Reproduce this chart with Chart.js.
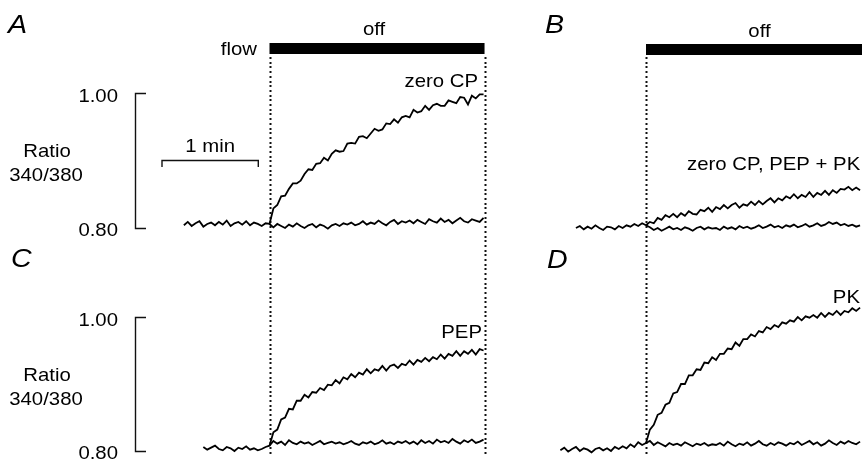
<!DOCTYPE html>
<html><head><meta charset="utf-8">
<script src="https://cdn.jsdelivr.net/npm/chart.js@4.4.1/dist/chart.umd.min.js"></script>
<style>html,body{margin:0;padding:0;background:#fff;overflow:hidden}canvas{display:block}</style>
</head><body>
<canvas id="c" width="862" height="462"></canvas>
<script>
// ---------- data (time in min, 0 = flow off; values = fura-2 ratio 340/380) ----------
const sampleInterval = 0.04;
const yTickValues = [1.00, 0.80];
const yTickLabels = ["1.00", "0.80"];
const panelLetters = ["A", "B", "C", "D"];
const traceLabels = ["zero CP", "zero CP, PEP + PK", "PEP", "PK"];

const startA = -0.88;
const controlA = [.804,.809,.803,.807,.810,.802,.806,.808,.804,.809,.805,.811,.803,.807,.809,.805,.810,.804,.808,.806,.803,.807,
 .806,
 .801,.806,.803,.800,.805,.802,.807,.803,.800,.804,.806,.801,.805,.803,.799,.804,.806,
 .803,.807,.805,.808,.804,.806,.810,.805,.808,.806,.811,.807,.804,.809,.812,.806,.810,.808,
 .811,.807,.812,.809,.806,.813,.810,.808,.814,.809,.812,.807,.811,.815,.810,.808,.813,.811,.809,.815];
const zeroCP_A = [.806,.829,.834,.847,.848,.858,.866,.866,.870,.880,.887,.886,.895,.896,.904,.900,.910,.915,.913,.914,.925,.926,.925,.935,.936,.933,.940,.947,.944,.946,.955,.954,.961,.956,.964,.966,.964,.975,.971,.973,.981,.975,.982,.984,.981,.981,.989,.987,.985,.994,.993,.983,.996,.992,.998,.998];

const startB = -0.72;
const controlB = [.800,.803,.798,.802,.799,.804,.800,.797,.802,.801,.798,.803,.800,.804,.802,.806,.803,.807,
 .804,
 .801,.797,.800,.796,.799,.802,.798,.800,.797,.801,.799,.796,.800,.802,.798,.801,.799,
 .800,.797,.802,.799,.801,.798,.803,.800,.802,.799,.801,.804,.800,.802,.805,.801,.803,.800,
 .804,.802,.805,.801,.803,.806,.802,.804,.807,.803,.805,.809,.806,.808,.804,.806,.803,.805,.802,.804];
const pepPk_B = [.804,.809,.807,.815,.812,.819,.816,.821,.816,.822,.818,.825,.821,.820,.827,.825,.830,.824,.831,.828,.834,.829,.834,.837,.830,.835,.833,.839,.834,.840,.835,.840,.844,.838,.844,.841,.847,.844,.850,.844,.849,.846,.853,.846,.852,.849,.855,.849,.856,.852,.858,.857,.861,.856,.860,.856];

const startC = -0.68;
const controlC = [.806,.802,.805,.808,.803,.801,.806,.804,.800,.805,.803,.807,.802,.804,.801,.803,.806,
 .808,
 .815,.811,.814,.809,.816,.812,.810,.814,.811,.813,.809,.812,.815,.810,.812,.814,.811,
 .813,.810,.812,.815,.811,.809,.813,.811,.814,.810,.812,.816,.811,.813,.810,.814,.812,.815,
 .811,.814,.810,.816,.812,.815,.811,.817,.813,.815,.812,.818,.814,.811,.816,.813,.817,.812,.814,.817];
const pep_C = [.808,.828,.832,.847,.850,.863,.862,.875,.875,.884,.880,.888,.887,.894,.891,.899,.898,.906,.901,.910,.907,.915,.910,.917,.914,.922,.916,.922,.920,.927,.920,.927,.929,.924,.930,.928,.935,.929,.936,.933,.939,.934,.940,.937,.944,.938,.945,.942,.949,.942,.949,.945,.951,.944,.952,.950];

const startD = -0.88;
const controlD = [.801,.805,.799,.803,.806,.800,.804,.802,.798,.803,.805,.801,.804,.800,.806,.803,.807,.804,.810,.806,.813,.809,
 .812,
 .815,.809,.813,.810,.807,.812,.809,.811,.808,.813,.810,.807,.811,.809,.812,.808,.810,
 .809,.812,.808,.814,.810,.807,.811,.809,.813,.808,.811,.815,.810,.808,.812,.809,.813,.811,
 .808,.812,.810,.814,.809,.812,.815,.810,.813,.808,.811,.816,.812,.809,.814,.811,.815,.812,.810,.814];
const pk_D = [.812,.832,.839,.854,.857,.869,.872,.886,.888,.900,.900,.913,.913,.922,.921,.932,.931,.940,.936,.945,.945,.953,.952,.962,.957,.967,.967,.974,.971,.979,.977,.985,.982,.988,.985,.992,.990,.995,.993,1.000,.995,1.001,.999,1.003,.999,1.006,1.000,1.006,1.003,1.009,1.003,1.009,1.007,1.013,1.009,1.014];

// protocol annotations (min)
const flowOffEnd = 2.21;      // end of the recording window (right dotted line / bar end)
const timeBarStart = -1.11;   // "1 min" calibration bar
const timeBarLength = 1;

// ---------- layout (pixels) ----------
const W = 862, H = 462;
const pxPerMin = 97.3;
const offLeftPx = 269.5, offRightPx = 646;
const rowTop = {v080: 228, v100: 93};
const rowBot = {v080: 451, v100: 317};
function yRange(r){ const k = 0.2/(r.v080 - r.v100); return {min: 0.80 - (H - r.v080)*k, max: 0.80 + r.v080*k}; }
const yT = yRange(rowTop), yB = yRange(rowBot);

function pts(arr, t0){ return arr.map((v,i)=>({x: t0 + i*sampleInterval, y: v})); }
function ds(arr, t0, xId, yId){
  return {data: pts(arr,t0), xAxisID: xId, yAxisID: yId, borderColor:'#000', borderWidth:1.8,
          pointRadius:0, tension:0, fill:false};
}

const SX = 1.1;
const FONT = '18.5px "Liberation Sans", Arial, sans-serif';
const LFONT = 'italic 26px "Liberation Sans", Arial, sans-serif';
function txt(ctx, s, x, y, align, font){
  ctx.save(); ctx.font = font || FONT; ctx.fillStyle = '#000'; ctx.textAlign = align || 'left'; ctx.textBaseline = 'alphabetic';
  ctx.translate(x, y); ctx.scale(SX, 1); ctx.fillText(s, 0, 0); ctx.restore();
}

const annot = {
  id: 'annot',
  beforeDatasetsDraw(chart){
    const ctx = chart.ctx, s = chart.scales;
    ctx.save();
    ctx.fillStyle = '#111';
    [s.xL.getPixelForValue(0), s.xL.getPixelForValue(flowOffEnd), s.xR.getPixelForValue(0)].forEach(x => {
      const xi = Math.round(x);
      for (let y = 57; y <= 456; y += 4.7) ctx.fillRect(xi - 0.5, Math.round(y), 2, 2);
    });
    ctx.restore();
  },
  afterDatasetsDraw(chart){
    const ctx = chart.ctx, s = chart.scales;
    ctx.save();
    // stimulus bars ("flow off")
    ctx.fillStyle = '#000';
    const a0 = s.xL.getPixelForValue(0), a1 = s.xL.getPixelForValue(flowOffEnd);
    ctx.fillRect(a0, 43, a1 - a0, 11);
    const b0 = s.xR.getPixelForValue(0);
    ctx.fillRect(b0, 44, W - b0, 11);
    // ratio calibration bars
    ctx.strokeStyle = '#111'; ctx.lineWidth = 1.4;
    [s.yT, s.yB].forEach(ys => {
      const yTop = Math.round(ys.getPixelForValue(yTickValues[0])) + 0.5;
      const yBot = Math.round(ys.getPixelForValue(yTickValues[1])) + 0.5;
      ctx.beginPath();
      ctx.moveTo(146, yTop); ctx.lineTo(135.5, yTop); ctx.lineTo(135.5, yBot); ctx.lineTo(146, yBot);
      ctx.stroke();
      txt(ctx, yTickLabels[0], 118, yTop + 8, 'right');
      txt(ctx, yTickLabels[1], 118, yBot + 7, 'right');
      const mid = (yTop + yBot)/2;
      txt(ctx, 'Ratio', 47, mid - 4, 'center');
      txt(ctx, '340/380', 46, mid + 20, 'center');
    });
    // time calibration bar
    const t0 = s.xL.getPixelForValue(timeBarStart), t1 = s.xL.getPixelForValue(timeBarStart + timeBarLength);
    ctx.beginPath();
    ctx.moveTo(t0+0.5, 167); ctx.lineTo(t0+0.5, 160.5); ctx.lineTo(t1-0.5, 160.5); ctx.lineTo(t1-0.5, 167);
    ctx.stroke();
    txt(ctx, '1 min', (t0+t1)/2, 152, 'center');
    // texts
    txt(ctx, 'flow', 257, 55, 'right');
    txt(ctx, 'off', (a0 + a1)/2 - 3, 35, 'center');
    txt(ctx, 'off', 759.5, 37, 'center');
    txt(ctx, panelLetters[0], 8, 33, 'left', LFONT);
    txt(ctx, panelLetters[1], 545, 33, 'left', LFONT);
    txt(ctx, panelLetters[2], 11, 267, 'left', LFONT);
    txt(ctx, panelLetters[3], 547, 268, 'left', LFONT);
    txt(ctx, traceLabels[0], 478, 87, 'right');
    txt(ctx, traceLabels[1], 687, 170, 'left');
    txt(ctx, traceLabels[2], 482, 338, 'right');
    txt(ctx, traceLabels[3], 860, 303, 'right');
    ctx.restore();
  }
};

new Chart(document.getElementById('c'), {
  type: 'line',
  data: { datasets: [
    ds(controlA, startA, 'xL', 'yT'), ds(zeroCP_A, 0, 'xL', 'yT'),
    ds(controlB, startB, 'xR', 'yT'), ds(pepPk_B, 0, 'xR', 'yT'),
    ds(controlC, startC, 'xL', 'yB'), ds(pep_C, 0, 'xL', 'yB'),
    ds(controlD, startD, 'xR', 'yB'), ds(pk_D, 0, 'xR', 'yB')
  ]},
  options: {
    responsive: false, animation: false, devicePixelRatio: 1,
    layout: {padding: 0},
    plugins: {legend: {display: false}, tooltip: {enabled: false}},
    scales: {
      xL: {type: 'linear', display: false, min: -offLeftPx/pxPerMin, max: (W - offLeftPx)/pxPerMin},
      xR: {type: 'linear', display: false, min: -offRightPx/pxPerMin, max: (W - offRightPx)/pxPerMin},
      yT: {type: 'linear', display: false, min: yT.min, max: yT.max},
      yB: {type: 'linear', display: false, min: yB.min, max: yB.max}
    }
  },
  plugins: [annot]
});
</script>
</body></html>
